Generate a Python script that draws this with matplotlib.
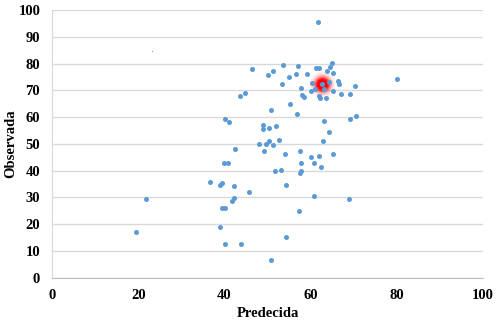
import numpy as np
import matplotlib.pyplot as plt

predecida = [
    61.8, 46.3, 53.7, 51.2, 50.1, 57.0, 56.5, 55.1, 59.1, 61.2, 62.0, 64.9,
    64.6, 63.9, 65.3, 53.4, 60.3, 64.3, 66.4, 66.7, 70.2, 57.8, 61.0, 60.2,
    63.1, 65.2, 58.1, 58.5, 61.9, 62.2, 63.6, 67.1, 69.1, 80.0, 50.7, 55.3,
    56.8, 63.0, 69.1, 70.5, 49.0, 48.9, 50.3, 51.9, 64.3, 52.6, 48.0, 49.7,
    50.3, 51.2, 62.8, 49.3, 54.0, 57.5, 60.2, 61.9, 65.3, 40.1, 41.1, 43.6,
    44.8, 42.5, 40.0, 40.8, 36.6, 39.0, 39.4, 42.3, 45.6, 41.8, 42.3, 39.4,
    40.1, 21.8, 39.0, 19.5, 40.2, 43.8, 57.7, 60.7, 62.5, 51.7, 53.1, 57.5,
    57.8, 54.2, 60.9, 68.8, 57.4, 54.2, 50.7,
]
observada = [
    95.5, 77.9, 79.6, 77.3, 75.6, 79.2, 76.1, 75.1, 76.1, 78.4, 78.4, 80.4,
    78.7, 77.2, 76.6, 72.5, 72.7, 73.0, 73.6, 72.5, 71.8, 71.0, 70.6, 69.8,
    70.4, 69.8, 68.1, 67.6, 67.9, 67.2, 67.0, 68.7, 68.7, 74.1, 62.6, 65.0,
    61.2, 58.5, 59.3, 60.3, 57.0, 55.4, 55.9, 56.6, 54.5, 51.4, 50.0, 50.0,
    50.9, 49.4, 51.1, 47.2, 46.2, 47.2, 45.0, 45.3, 46.3, 59.3, 58.0, 68.0,
    69.1, 48.0, 42.7, 42.7, 35.7, 34.6, 35.4, 34.3, 32.1, 28.7, 29.8, 26.1,
    26.1, 29.5, 18.9, 17.1, 12.4, 12.4, 42.9, 42.8, 41.4, 39.9, 40.2, 39.2,
    39.7, 34.5, 30.6, 29.5, 24.9, 15.3, 6.7,
]

# highlighted point and a stray tiny point
destacado = (62.6, 72.5)
punto_chico = (23.3, 84.7)

plt.rcParams['font.family'] = ['Liberation Serif', 'DejaVu Serif']
plt.rcParams['font.size'] = 10.5

fig = plt.figure(figsize=(5.0, 3.27), dpi=100)
ax = fig.add_axes([0.104, 0.151, 0.862, 0.818])

# red glow behind the highlighted point
for s, a in [(340, 0.06), (250, 0.12), (180, 0.24), (120, 0.45), (80, 0.75), (50, 0.95)]:
    ax.scatter([destacado[0]], [destacado[1]], s=s, color='#FF0000', alpha=a,
               linewidths=0, zorder=3)

ax.scatter(predecida, observada, s=13, color='#5B9BD5', linewidths=0, zorder=4)
ax.scatter([destacado[0]], [destacado[1]], s=13, color='#5B9BD5', linewidths=0, zorder=5)
ax.scatter([punto_chico[0]], [punto_chico[1]], s=0.6, color='#7F7F7F', linewidths=0, zorder=4)

ax.set_xlim(0, 100)
ax.set_ylim(0, 100)
ax.set_xticks(np.arange(0, 101, 20))
ax.set_yticks(np.arange(0, 101, 10))
ax.yaxis.grid(True, color='#D9D9D9', linewidth=1.0)
ax.set_axisbelow(True)
ax.tick_params(axis='x', length=0, pad=8.5)
ax.tick_params(axis='y', length=0, pad=8.5)
for lab in ax.get_xticklabels() + ax.get_yticklabels():
    lab.set_fontweight('bold')

for side in ['top', 'right']:
    ax.spines[side].set_visible(False)
ax.spines['left'].set_color('#D9D9D9')
ax.spines['bottom'].set_color('#BFBFBF')

ax.set_xlabel('Predecida', fontweight='bold', fontsize=10.5, labelpad=3)
ax.set_ylabel('Observada', fontweight='bold', fontsize=10.5, labelpad=1)

fig.savefig('out.png', dpi=100)
